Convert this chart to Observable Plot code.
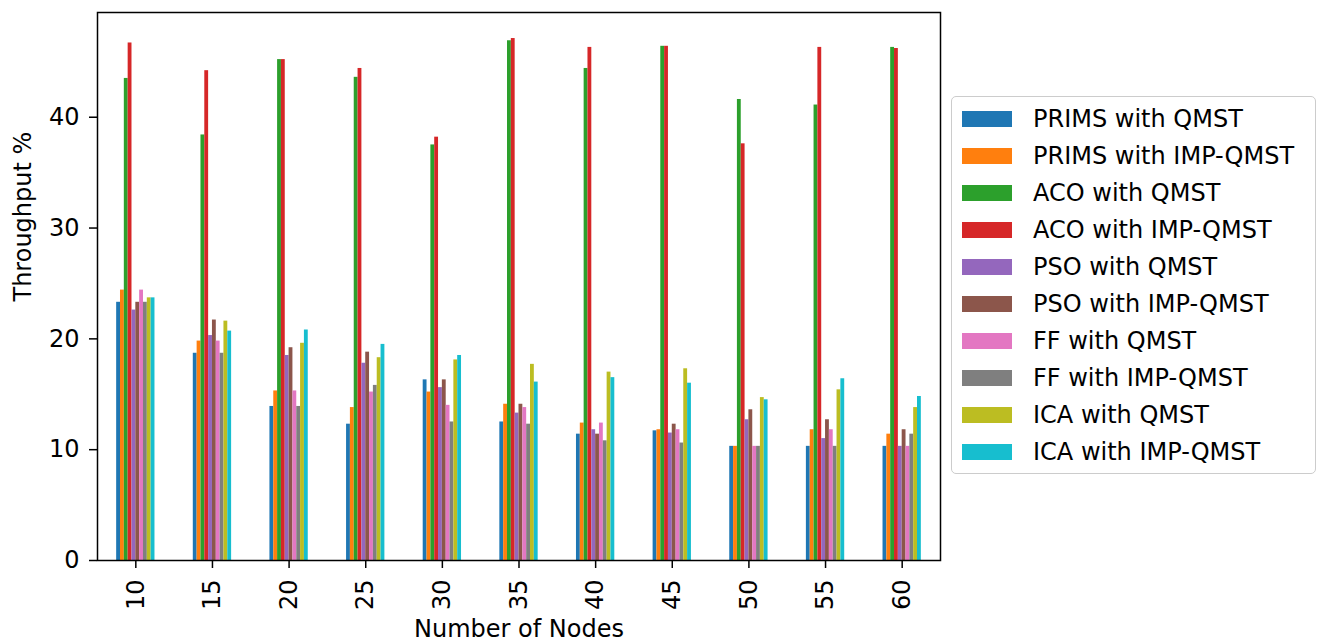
<!DOCTYPE html>
<html>
<head>
<meta charset="utf-8">
<script src="https://cdn.jsdelivr.net/npm/d3@7"></script>
<script src="https://cdn.jsdelivr.net/npm/@observablehq/plot@0.6"></script>
<style>
  html, body { margin: 0; padding: 0; background: #fff; }
  body { font-family: "DejaVu Sans", sans-serif; }
  #wrap { position: relative; width: 1325px; height: 644px; overflow: hidden; }
  #chart { position: absolute; left: 0; top: 0; }
  #legend {
    position: absolute; left: 951px; top: 96px; width: 365px; height: 378px;
    border: 1.5px solid #cccccc; border-radius: 5px; box-sizing: border-box; background: #fff;
  }
  .row { position: absolute; left: 0; width: 100%; height: 37px; }
  .sw { position: absolute; left: 10px; top: 12px; width: 50px; height: 16px; }
  .lab { position: absolute; left: 81px; top: 6px; font-size: 24px; color: #000; white-space: nowrap; line-height: 28px; }
</style>
</head>
<body>
<div id="wrap">
  <div id="chart"></div>
  <div id="legend"></div>
</div>
<script>
// ---- data ----
const nodes = ["10", "15", "20", "25", "30", "35", "40", "45", "50", "55", "60"];
const series = [
  "PRIMS with QMST", "PRIMS with IMP-QMST", "ACO with QMST", "ACO with IMP-QMST",
  "PSO with QMST", "PSO with IMP-QMST", "FF with QMST", "FF with IMP-QMST",
  "ICA with QMST", "ICA with IMP-QMST"
];
const colors = ["#1f77b4", "#ff7f0e", "#2ca02c", "#d62728", "#9467bd",
                "#8c564b", "#e377c2", "#7f7f7f", "#bcbd22", "#17becf"];
const yTicks = [0, 10, 20, 30, 40];

const primsQmst    = [23.3, 18.7, 13.9, 12.3, 16.3, 12.5, 11.4, 11.7, 10.3, 10.3, 10.3];
const primsImpQmst = [24.4, 19.8, 15.3, 13.8, 15.2, 14.1, 12.4, 11.8, 10.3, 11.8, 11.4];
const acoQmst      = [43.5, 38.4, 45.2, 43.6, 37.5, 46.9, 44.4, 46.4, 41.6, 41.1, 46.3];
const acoImpQmst   = [46.7, 44.2, 45.2, 44.4, 38.2, 47.1, 46.3, 46.4, 37.6, 46.3, 46.2];
const psoQmst      = [22.6, 20.3, 18.5, 17.8, 15.6, 13.3, 11.8, 11.5, 12.7, 11.0, 10.3];
const psoImpQmst   = [23.3, 21.7, 19.2, 18.8, 16.3, 14.1, 11.4, 12.3, 13.6, 12.7, 11.8];
const ffQmst       = [24.4, 19.8, 15.3, 15.2, 14.0, 13.8, 12.4, 11.8, 10.3, 11.8, 10.3];
const ffImpQmst    = [23.3, 18.7, 13.9, 15.8, 12.5, 12.3, 10.8, 10.6, 10.3, 10.3, 11.4];
const icaQmst      = [23.7, 21.6, 19.6, 18.3, 18.1, 17.7, 17.0, 17.3, 14.7, 15.4, 13.8];
const icaImpQmst   = [23.7, 20.7, 20.8, 19.5, 18.5, 16.1, 16.5, 16.0, 14.5, 16.4, 14.8];

const seriesValues = [primsQmst, primsImpQmst, acoQmst, acoImpQmst, psoQmst,
                      psoImpQmst, ffQmst, ffImpQmst, icaQmst, icaImpQmst];

// grouped bars, pandas-style: each group spans 0.5 of a category slot
const groupWidth = 0.5;
const barWidth = groupWidth / series.length;
const data = [];
nodes.forEach((n, i) => {
  series.forEach((s, k) => {
    const x1 = i - groupWidth / 2 + k * barWidth;
    data.push({node: n, series: s, value: seriesValues[k][i], x1, x2: x1 + barWidth});
  });
});

// ---- chart ----
const chart = Plot.plot({
  width: 945,
  height: 644,
  marginLeft: 97,
  marginRight: 5,
  marginTop: 12,
  marginBottom: 84,
  style: {fontFamily: "DejaVu Sans, sans-serif", fontSize: "24px", color: "#000", background: "transparent", overflow: "visible"},
  x: {domain: [-0.5, nodes.length - 0.5], label: null},
  y: {domain: [0, 49.45], label: null},
  color: {domain: series, range: colors},
  marks: [
    Plot.rectY(data, {x1: "x1", x2: "x2", y1: 0, y2: "value", fill: "series", inset: 0}),
    Plot.axisY({ticks: yTicks, tickSize: 8, tickPadding: 10, label: null, fontSize: 24, strokeWidth: 1.5}),
    Plot.axisX({ticks: d3.range(nodes.length), tickFormat: i => nodes[i], tickRotate: -90, tickSize: 8, tickPadding: 11, label: null, fontSize: 24, strokeWidth: 1.5}),
    Plot.text(["Throughput %"], {frameAnchor: "left", rotate: -90, dx: -74, dy: 15, fontSize: 24, fill: "#000"}),
    Plot.text(["Number of Nodes"], {frameAnchor: "bottom", dy: 76, fontSize: 24, fill: "#000"}),
    Plot.frame({stroke: "#000", strokeWidth: 1.5})
  ]
});
document.getElementById("chart").appendChild(chart);

// ---- legend ----
const legend = d3.select("#legend");
series.forEach((s, k) => {
  const row = legend.append("div").attr("class", "row").style("top", (2 + k * 37) + "px");
  row.append("div").attr("class", "sw").style("background", colors[k]);
  row.append("div").attr("class", "lab").text(s);
});
</script>
</body>
</html>
